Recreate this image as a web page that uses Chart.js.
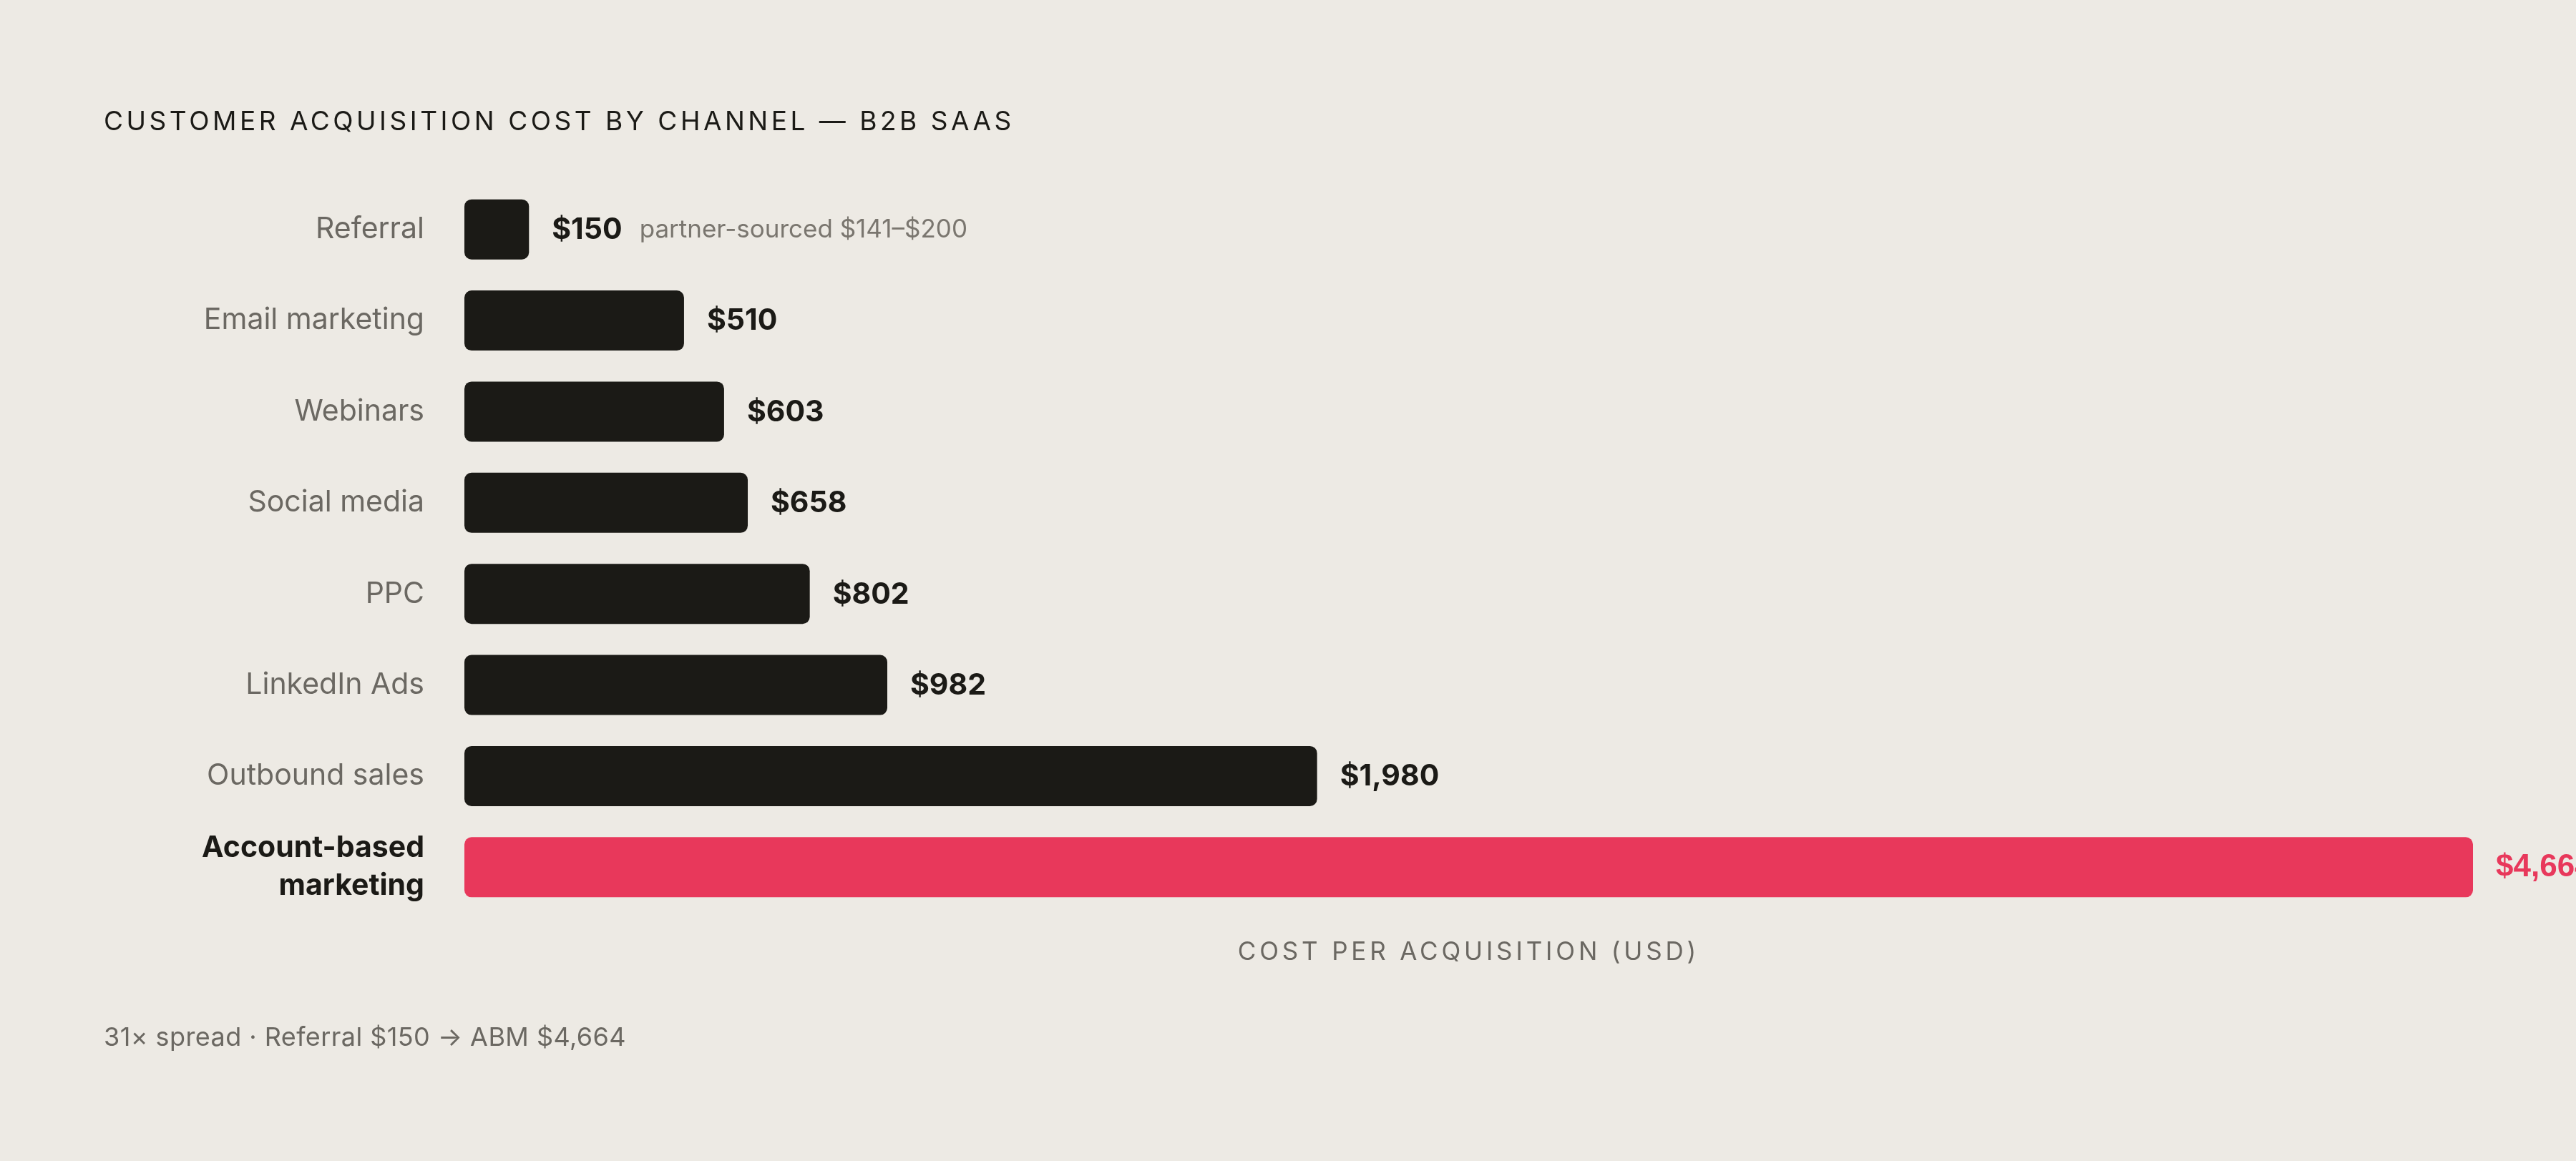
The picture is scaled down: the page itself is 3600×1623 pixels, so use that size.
<!DOCTYPE html>
<html>
<head>
<meta charset="utf-8">
<script src="https://cdn.jsdelivr.net/npm/chart.js@4.4.1/dist/chart.umd.min.js"></script>
<style>
  html, body { margin: 0; padding: 0; background: #edeae4; }
  body { width: 3600px; height: 1623px; position: relative; overflow: hidden; font-family: Inter, "Noto Sans", sans-serif; }
  #wrap { position: absolute; left: 0; top: 0; width: 3600px; height: 1623px; }
  .title { position: absolute; left: 145px; top: 150px; font-size: 37px; line-height: 1; letter-spacing: 0.122em; color: #1b1a16; white-space: nowrap; }
  .axis-title { position: absolute; left: 649px; width: 2807px; top: 1312px; text-align: center; font-size: 35px; line-height: 1; letter-spacing: 0.138em; color: #6b6862; }
  .foot { position: absolute; left: 145px; top: 1431px; font-size: 36px; line-height: 1; letter-spacing: 0.012em; color: #6b6862; white-space: nowrap; }
</style>
</head>
<body>
<div id="wrap"><canvas id="cac" width="3600" height="1623"></canvas></div>
<div class="title">CUSTOMER ACQUISITION COST BY CHANNEL — B2B SAAS</div>
<div class="axis-title">COST PER ACQUISITION (USD)</div>
<div class="foot">31× spread · Referral $150 → ABM $4,664</div>
<script>
const channels = ['Referral', 'Email marketing', 'Webinars', 'Social media', 'PPC', 'LinkedIn Ads', 'Outbound sales', 'Account-based marketing'];
const cac = [150, 510, 603, 658, 802, 982, 1980, 4664];
const notes = ['partner-sourced $141–$200', '', '', '', '', '', '', ''];
const highlight = 7;

const INK = '#1b1a16';
const RED = '#e8385b';
const GREY = '#6b6862';

function money(v) {
    return '$' + v.toLocaleString('en-US');
}

// value labels to the right of each bar
const valueLabels = {
    id: 'valueLabels',
    afterDatasetsDraw(chart) {
        const ctx = chart.ctx;
        const meta = chart.getDatasetMeta(0);
        ctx.save();
        ctx.textBaseline = 'middle';
        ctx.textAlign = 'left';
        meta.data.forEach((bar, i) => {
            const txt = money(cac[i]);
            const x = bar.x + 32;
            if (i === highlight) {
                ctx.font = 'bold 44px "Liberation Sans", Arial, sans-serif';
                ctx.fillStyle = RED;
            } else {
                ctx.font = '700 41px Inter, sans-serif';
                ctx.fillStyle = INK;
            }
            ctx.fillText(txt, x, bar.y + 1);
            if (notes[i]) {
                const w = ctx.measureText(txt).width;
                ctx.font = '35px Inter, sans-serif';
                ctx.fillStyle = '#7a766f';
                ctx.fillText(notes[i], x + w + 24, bar.y + 1);
            }
        });
        ctx.restore();
    }
};

new Chart(document.getElementById('cac'), {
    type: 'bar',
    data: {
        labels: channels,
        datasets: [{
            data: cac,
            backgroundColor: cac.map((v, i) => i === highlight ? RED : INK),
            borderRadius: 10,
            borderSkipped: false,
            categoryPercentage: 1,
            barPercentage: 0.66
        }]
    },
    options: {
        indexAxis: 'y',
        responsive: false,
        animation: false,
        devicePixelRatio: 1,
        layout: { padding: { top: 257, right: 144, bottom: 347, left: 0 } },
        scales: {
            x: {
                display: false,
                min: 0,
                max: Math.max(...cac)
            },
            y: {
                afterFit(scale) { scale.width = 649; },
                grid: { display: false },
                border: { display: false },
                ticks: {
                    padding: 48,
                    color: (c) => c.index === highlight ? INK : GREY,
                    font: (c) => c.index === highlight
                        ? { family: 'Inter, sans-serif', size: 41, weight: '700', lineHeight: 1.3 }
                        : { family: 'Inter, sans-serif', size: 41, weight: '400' },
                    callback: (v, i) => i === highlight ? ['Account-based', 'marketing'] : channels[i]
                }
            }
        },
        plugins: {
            legend: { display: false },
            tooltip: { enabled: false }
        }
    },
    plugins: [valueLabels]
});
</script>
</body>
</html>
